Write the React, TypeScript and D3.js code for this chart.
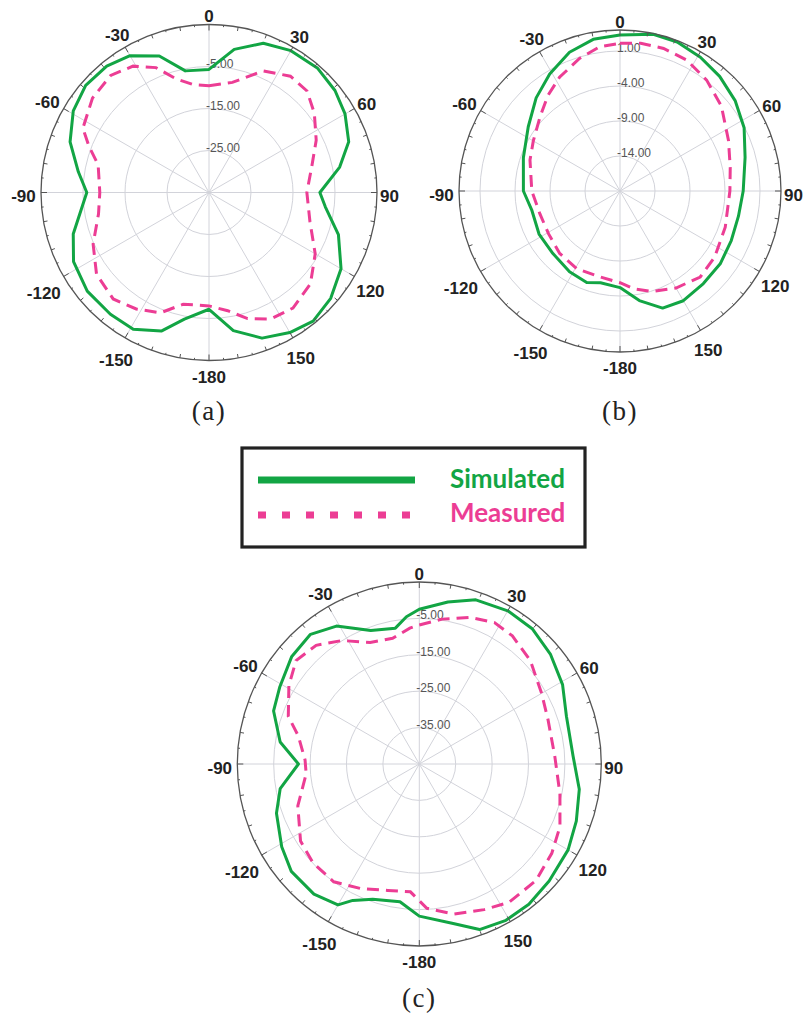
import * as d3 from 'd3';
import React from 'react';

// angle labels around every ring (degrees clockwise from top)
const angleTicks = [0, 30, 60, 90, 120, 150, 180, 210, 240, 270, 300, 330];
const angleLabels = ['0', '30', '60', '90', '120', '150', '-180', '-150', '-120', '-90', '-60', '-30'];

// (a)
const gridA = [-25, -15, -5];
const gridLabelsA = ['-25.00', '-15.00', '-5.00'];
const simAngA = [0, 10, 20, 30, 41, 51, 60, 70, 79, 90, 97, 108, 120, 131, 141, 150, 160, 170, 180, -169, -161, -151, -141, -129, -117, -107, -90, -81, -70, -59, -49, -39, -30, -20, -11];
const simA = [-5.7, -0.4, 2.8, 4.0, 4.3, 3.6, 2.4, 0.4, -3.3, -8.6, -7.1, -2.6, 1.3, 3.4, 4.4, 3.5, 1.9, -1.6, -7.2, -4.3, -0.1, 2.2, 2.3, 2.3, 1.2, -1.2, -5.9, -3.5, 0.2, 2.7, 3.9, 3.7, 2.6, -0.4, -5.5];
const measAngA = [0, 12, 24, 35, 44, 53, 64, 76, 90, 106, 120, 132, 144, 154, 163, 171, 180, -167, -158, -148, -138, -126, -114, -101, -90, -76, -69, -63, -51, -40, -31, -23, -16, -8];
const measA = [-9.6, -8.2, -3.3, -1.2, -1.4, -3.6, -6.6, -9.8, -11.7, -10, -5.8, -2.5, -1.0, -1.5, -3.6, -6.5, -8.0, -7.7, -4.1, -2.3, -0.9, -1.9, -4.8, -8.2, -9.0, -7.8, -4.4, -1.3, 0.7, 1.4, 0.1, -2.7, -6.9, -9.1];

// (b)
const gridB = [-14, -9, -4, 1];
const gridLabelsB = ['-14.00', '-9.00', '-4.00', '1.00'];
const simAngB = [0, 12, 21, 31, 41, 52, 63, 75, 90, 102, 114, 126, 138, 150, 160, 170, 180, -168, -160, -148, -133, -118, -102, -90, -71, -55, -42, -31, -20, -10];
const simB = [3.3, 3.9, 3.8, 3.3, 2.7, 1.9, 0.9, -0.5, -1.4, -1.7, -1.6, -1.3, -1.2, -0.9, -1.2, -3.1, -5.2, -5.6, -5.1, -5.4, -5.9, -5.9, -6.1, -5.2, -4.4, -3.0, -1.1, 0.5, 2.1, 3.0];
const measAngB = [0, 8, 17, 27, 38, 50, 65, 78, 90, 109, 125, 137, 150, 162, 172, 180, -167, -151, -136, -121, -106, -90, -71, -60, -47, -37, -28, -17, -8];
const measB = [2.1, 2.3, 2.3, 2.0, 1.1, -0.1, -1.9, -2.9, -3.3, -3.1, -2.5, -2.2, -3.0, -3.9, -4.9, -5.9, -6.4, -6.3, -6.6, -7.1, -7.1, -6.4, -5.4, -4.7, -3.4, -1.9, -0.6, 0.8, 1.8];

// (c)
const gridC = [-35, -25, -15, -5];
const gridLabelsC = ['-35.00', '-25.00', '-15.00', '-5.00'];
const simAngC = [0, 10, 19, 30, 40, 50, 61, 72, 87, 99, 110, 120, 132, 142, 151, 160, 168, 180, -172, -161, -154, -150, -141, -130, -121, -109, -100, -90, -81, -70, -61, -50, -40, -31, -20, -10, -5];
const simC = [-2.5, 0.2, 2.7, 3.6, 3.4, 2.0, 0.0, -2.5, -2.7, -0.5, 0.9, 2.2, 3.0, 3.9, 4.1, 3.4, -0.2, -3.2, -6.8, -5.7, -3.3, -0.3, 1.0, 0.9, -0.9, -3.5, -6.2, -11.8, -6.3, -2.4, -1.2, 0.8, 1.5, -0.8, -6.0, -7.1, -4.4];
const measAngC = [0, 9, 19, 28, 36, 47, 60, 71, 87, 102, 114, 124, 135, 147, 156, 167, 177, -176, -166, -155, -144, -133, -123, -109, -95, -88, -77, -70, -59, -50, -41, -32, -22, -12, -4];
const measC = [-6.8, -4.7, -2.4, -1.0, -1.5, -3.3, -6.2, -7.6, -7.7, -5.5, -2.7, -1.1, 0.3, 0.3, -1.2, -2.7, -5.3, -9.8, -9.2, -7.2, -5.0, -5.1, -6.1, -9.7, -13.8, -13.6, -10.9, -6.7, -3.2, -0.8, -1.8, -5.0, -9.0, -9.7, -7.6];

const GREEN = '#12a544';
const PINK = '#ec3d94';
const GRID = '#d2d3da';
const SANS = "'Liberation Sans', Arial, sans-serif";

type PlotProps = {
  cx: number;
  cy: number;
  radius: number;
  minDb: number;
  maxDb: number;
  grid: number[];
  gridLabels: string[];
  simAng: number[];
  sim: number[];
  measAng: number[];
  meas: number[];
  caption: string;
  captionY: number;
};

const PolarPlot: React.FC<PlotProps> = ({
  cx, cy, radius, minDb, maxDb, grid, gridLabels, simAng, sim, measAng, meas, caption, captionY,
}) => {
  const r = d3.scaleLinear().domain([minDb, maxDb]).range([0, radius]);
  const line = d3
    .lineRadial<[number, number]>()
    .angle((d) => (d[0] * Math.PI) / 180)
    .radius((d) => r(d[1]))
    .curve(d3.curveLinearClosed);
  const simPts = simAng.map((a, i) => [a, sim[i]] as [number, number]);
  const measPts = measAng.map((a, i) => [a, meas[i]] as [number, number]);

  const fs = 17;
  // push each angle label out so its box clears the ring
  const labelPos = (deg: number, text: string) => {
    const t = (deg * Math.PI) / 180;
    const w = text.replace('-', '').length * 0.556 * fs + (text.startsWith('-') ? 0.6 * fs : 0);
    const h = 0.72 * fs;
    const rr = radius + 3 + (w / 2) * Math.abs(Math.sin(t)) + (h / 2) * Math.abs(Math.cos(t));
    return [rr * Math.sin(t), -rr * Math.cos(t) + 4 - 3 * Math.cos(t)];
  };

  const ticks = d3.range(0, 360, 5);

  return (
    <g transform={`translate(${cx},${cy})`}>
      {grid.map((g) => (
        <circle key={g} r={r(g)} fill="none" stroke={GRID} strokeWidth={1} />
      ))}
      {angleTicks.map((a) => {
        const t = (a * Math.PI) / 180;
        return (
          <line key={a} x1={0} y1={0} x2={radius * Math.sin(t)} y2={-radius * Math.cos(t)} stroke={GRID} strokeWidth={1} />
        );
      })}
      {grid.map((g, i) => (
        <text key={g} x={-3} y={-r(g) + 1} fontFamily={SANS} fontSize={12} fill="#555">
          {gridLabels[i]}
        </text>
      ))}
      <path d={line(measPts) || ''} fill="none" stroke={PINK} strokeWidth={3} strokeDasharray="12,7" />
      <path d={line(simPts) || ''} fill="none" stroke={GREEN} strokeWidth={3} strokeLinejoin="round" />
      <circle r={radius} fill="none" stroke="#555" strokeWidth={1.3} />
      {ticks.map((a) => {
        const t = (a * Math.PI) / 180;
        const len = a % 30 === 0 ? 6 : a % 10 === 0 ? 4 : 2;
        return (
          <line
            key={a}
            x1={radius * Math.sin(t)}
            y1={-radius * Math.cos(t)}
            x2={(radius - len) * Math.sin(t)}
            y2={-(radius - len) * Math.cos(t)}
            stroke="#555"
            strokeWidth={1}
          />
        );
      })}
      {angleTicks.map((a, i) => {
        const [x, y] = labelPos(a, angleLabels[i]);
        return (
          <text
            key={a}
            x={x}
            y={y}
            dy="0.35em"
            textAnchor="middle"
            fontFamily={SANS}
            fontWeight="bold"
            fontSize={fs}
            fill="#222"
          >
            {angleLabels[i]}
          </text>
        );
      })}
      <text
        x={0}
        y={captionY - cy}
        textAnchor="middle"
        fontFamily="'Liberation Serif', 'Times New Roman', serif"
        fontSize={27}
        letterSpacing={1.5}
        fill="#222"
      >
        {caption}
      </text>
    </g>
  );
};

const Legend: React.FC = () => (
  <g>
    <rect x={242} y={448} width={343} height={99} fill="#fff" stroke="#222" strokeWidth={3.2} />
    <line x1={258} y1={480} x2={415} y2={480} stroke={GREEN} strokeWidth={7} />
    <line x1={258} y1={515} x2={415} y2={515} stroke={PINK} strokeWidth={7} strokeDasharray="8,16" />
    <text x={450} y={488} fontFamily="Lato, sans-serif" fontWeight="bold" fontSize={26} fill={GREEN}>
      Simulated
    </text>
    <text x={450} y={522} fontFamily="Lato, sans-serif" fontWeight="bold" fontSize={26} fill={PINK}>
      Measured
    </text>
  </g>
);

export default function App() {
  return (
    <svg
      width={804}
      height={1014}
      style={{ position: 'absolute', left: 0, top: 0, background: '#fff' }}
    >
      <PolarPlot
        cx={209} cy={192.5} radius={168} minDb={-35} maxDb={5}
        grid={gridA} gridLabels={gridLabelsA}
        simAng={simAngA} sim={simA} measAng={measAngA} meas={measA}
        caption="(a)" captionY={420}
      />
      <PolarPlot
        cx={620} cy={191} radius={161} minDb={-19} maxDb={4}
        grid={gridB} gridLabels={gridLabelsB}
        simAng={simAngB} sim={simB} measAng={measAngB} meas={measB}
        caption="(b)" captionY={420}
      />
      <Legend />
      <PolarPlot
        cx={419.3} cy={764} radius={182} minDb={-45} maxDb={5}
        grid={gridC} gridLabels={gridLabelsC}
        simAng={simAngC} sim={simC} measAng={measAngC} meas={measC}
        caption="(c)" captionY={1007}
      />
    </svg>
  );
}
